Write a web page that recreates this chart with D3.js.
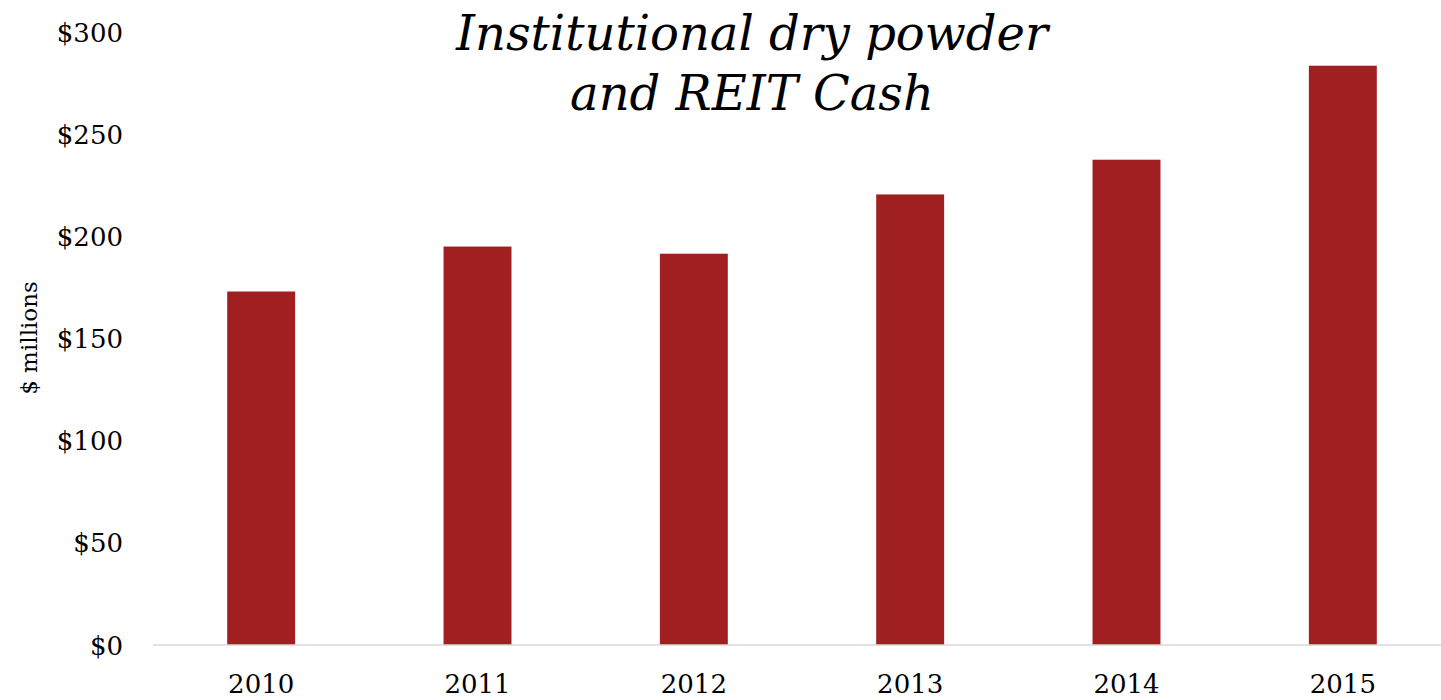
<!DOCTYPE html>
<html>
<head>
<meta charset="utf-8">
<script src="https://cdn.jsdelivr.net/npm/d3@7"></script>
<style>
  body { margin: 0; background: #fff; }
  svg { display: block; }
  text { font-family: "DejaVu Serif", Georgia, serif; fill: #000; }
</style>
</head>
<body>
<div id="container"></div>
<script>
// chart data
var years = ["2010", "2011", "2012", "2013", "2014", "2015"];
var values = [173, 195, 191.5, 220.5, 237.5, 283.5];
var yTicks = [0, 50, 100, 150, 200, 250, 300];
var titleLines = ["Institutional dry powder", "and REIT Cash"];

var width = 1441, height = 700;
var barColor = "#a01f21";

var svg = d3.select("#container").append("svg")
  .attr("width", width)
  .attr("height", height);

var x = d3.scaleBand().domain(years).range([153, 1451])
  .paddingInner(0.686).paddingOuter(0.343);
var y = d3.scaleLinear().domain([0, 300]).range([645, 32]);

// bars
svg.selectAll(".bar").data(values).enter()
  .append("rect")
  .attr("class", "bar")
  .attr("x", function(d, i) { return x(years[i]); })
  .attr("y", function(d) { return y(d); })
  .attr("width", x.bandwidth())
  .attr("height", function(d) { return y(0) - y(d); })
  .style("fill", barColor);

// baseline
svg.append("line")
  .attr("x1", 153).attr("x2", width)
  .attr("y1", y(0)).attr("y2", y(0))
  .attr("stroke", "#d9d9d9")
  .attr("stroke-width", 1.5);

// y axis (labels only)
var yAxis = d3.axisLeft(y).tickValues(yTicks)
  .tickFormat(function(d) { return "$" + d; })
  .tickSize(0).tickPadding(0);
var gy = svg.append("g")
  .attr("transform", "translate(123,0)")
  .call(yAxis);
gy.select(".domain").remove();
gy.selectAll("text")
  .style("font-family", "'DejaVu Serif', Georgia, serif")
  .style("font-size", "26px")
  .attr("dy", "0.35em");

// x axis (labels only)
var xAxis = d3.axisBottom(x).tickSize(0).tickPadding(0);
var gx = svg.append("g")
  .attr("transform", "translate(0,693)")
  .call(xAxis);
gx.select(".domain").remove();
gx.selectAll("text")
  .style("font-family", "'DejaVu Serif', Georgia, serif")
  .style("font-size", "26px")
  .attr("dy", 0)
  .attr("y", 0);

// y label
svg.append("text")
  .attr("transform", "translate(37,338) rotate(-90)")
  .style("text-anchor", "middle")
  .style("font-size", "23px")
  .text("$ millions");

// title
svg.append("g").selectAll("text").data(titleLines).enter()
  .append("text")
  .attr("x", 752)
  .attr("y", function(d, i) { return 50 + i * 60; })
  .style("text-anchor", "middle")
  .style("font-style", "italic")
  .style("font-size", "48px")
  .text(function(d) { return d; });
</script>
</body>
</html>
